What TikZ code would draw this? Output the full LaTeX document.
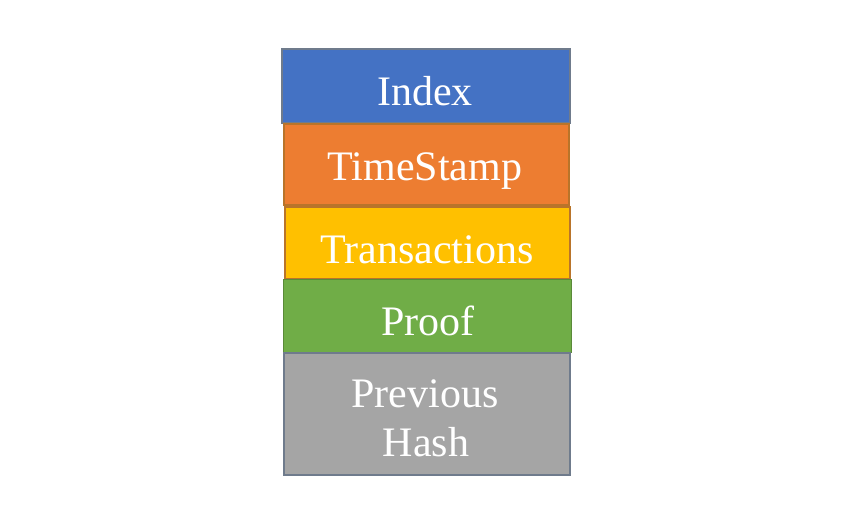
\documentclass[tikz,border=0pt]{standalone}
\usepackage{fontspec}
\setmainfont{Liberation Serif}
\usetikzlibrary{calc}

\definecolor{idxblue}{HTML}{4472C4}
\definecolor{tsorange}{HTML}{ED7D31}
\definecolor{txyellow}{HTML}{FFC000}
\definecolor{pfgreen}{HTML}{70AD47}
\definecolor{phgray}{HTML}{A5A5A5}
\definecolor{edgegray}{HTML}{6F7B8C}
\definecolor{edgeorange}{HTML}{B9742A}

\tikzset{
  field/.style={text=white, font=\fontsize{31.5}{36}\selectfont, anchor=base, align=center}
}

\begin{document}
\begin{tikzpicture}[x=0.75pt,y=-0.75pt]

\useasboundingbox (0,0) rectangle (862,522);

% block fields, top to bottom
\filldraw[fill=idxblue, draw=edgegray, line width=0.8pt] (282,49) rectangle (570,123);
\filldraw[fill=tsorange, draw=edgeorange, line width=1.5pt] (284,124) rectangle (569,205);
\filldraw[fill=txyellow, draw=edgeorange, line width=1.2pt] (285,207) rectangle (570,279);
\filldraw[fill=pfgreen, draw=pfgreen!80!black, line width=0.5pt] (283,279) rectangle (571,352);
\filldraw[fill=phgray, draw=edgegray, line width=1.5pt] (284,353) rectangle (570,475);

\node[field] (index) at (425,105) {Index};
\node[field] (stamp) at (425,180) {TimeStamp};
\node[field] (trans) at (427,263) {Transactions};
\node[field] (proof) at (428,335) {Proof};
\node[field] (prev) at (425,407) {Previous};
\node[field] (hash) at (426,456) {Hash};

\end{tikzpicture}
\end{document}
